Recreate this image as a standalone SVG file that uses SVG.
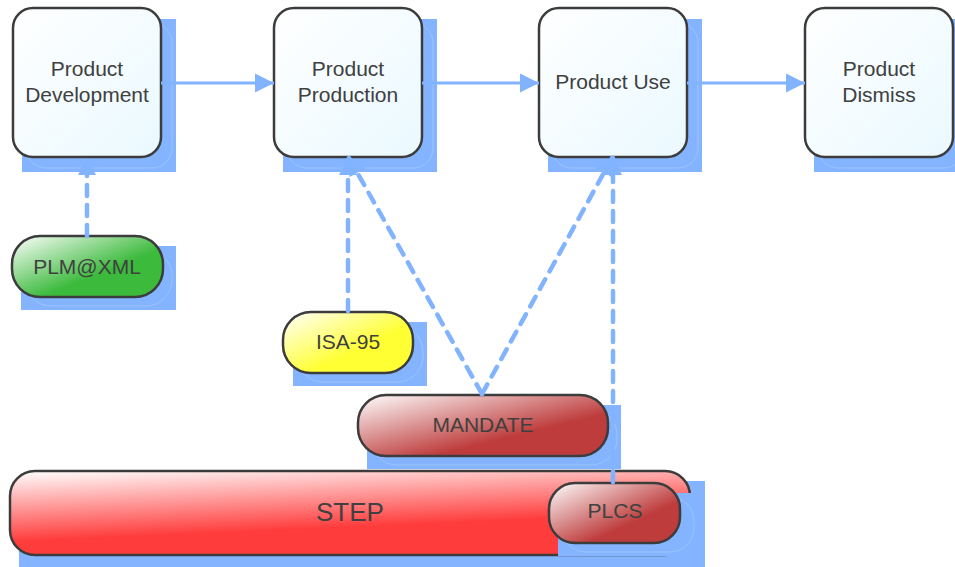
<svg xmlns="http://www.w3.org/2000/svg" width="955" height="567" viewBox="0 0 955 567">
  <defs>
    <linearGradient id="gBox" x1="0" y1="0" x2="1" y2="1">
      <stop offset="0" stop-color="#ffffff"/>
      <stop offset="1" stop-color="#eaf9ff"/>
    </linearGradient>
    <linearGradient id="gGreen" x1="0" y1="0" x2="1" y2="1">
      <stop offset="0" stop-color="#ffffff"/>
      <stop offset="0.6" stop-color="#3cba3c"/>
      <stop offset="1" stop-color="#3cba3c"/>
    </linearGradient>
    <linearGradient id="gYellow" x1="0" y1="0" x2="1" y2="1">
      <stop offset="0" stop-color="#ffffff"/>
      <stop offset="0.6" stop-color="#ffff33"/>
      <stop offset="1" stop-color="#ffff33"/>
    </linearGradient>
    <linearGradient id="gDarkRed" x1="0" y1="0" x2="1" y2="1">
      <stop offset="0" stop-color="#ffffff"/>
      <stop offset="0.65" stop-color="#be3c3c"/>
      <stop offset="1" stop-color="#be3c3c"/>
    </linearGradient>
    <linearGradient id="gRed" x1="0" y1="0" x2="0.35" y2="1">
      <stop offset="0" stop-color="#ffffff"/>
      <stop offset="0.75" stop-color="#ff3c3c"/>
      <stop offset="1" stop-color="#ff3c3c"/>
    </linearGradient>
    <marker id="arr" viewBox="0 0 20 20" refX="19" refY="10" markerWidth="20" markerHeight="20" markerUnits="userSpaceOnUse" orient="auto">
      <path d="M0,0.5 L19,10 L0,19.5 Z" fill="#82b3ff"/>
    </marker>
    <marker id="arrD" viewBox="0 0 18 20" refX="17" refY="10" markerWidth="18" markerHeight="20" markerUnits="userSpaceOnUse" orient="auto">
      <path d="M0,1 L17,10 L0,19 Z" fill="#82b3ff"/>
    </marker>
  </defs>
  <style>
    .shadow { fill: #84b4ff; }
    .shline { fill: none; stroke: #9cc3ff; stroke-width: 1; }
    .box { stroke: #3c3c3c; stroke-width: 2.5; }
    .lbl { font-family: "Liberation Sans", Arial, sans-serif; font-size: 21px; fill: #404040; text-anchor: middle; }
    .solid { fill: none; stroke: #82b3ff; stroke-width: 3; }
    .dash { fill: none; stroke: #82b3ff; stroke-width: 4.5; stroke-dasharray: 11 9; stroke-linecap: round; }
  </style>

  <g id="n-dev">
    <rect class="shadow" x="22" y="19" width="154" height="153"/>
    <rect class="shline" x="26" y="23" width="146" height="145" rx="20"/>
    <rect class="box" x="13" y="8" width="148" height="149" rx="20" fill="url(#gBox)"/>
    <text class="lbl" x="87" y="76">Product</text>
    <text class="lbl" x="87" y="102">Development</text>
  </g>
  <g id="n-prod">
    <rect class="shadow" x="283" y="19" width="154" height="153"/>
    <rect class="shline" x="287" y="23" width="146" height="145" rx="20"/>
    <rect class="box" x="274" y="8" width="148" height="149" rx="20" fill="url(#gBox)"/>
    <text class="lbl" x="348" y="76">Product</text>
    <text class="lbl" x="348" y="102">Production</text>
  </g>
  <g id="n-use">
    <rect class="shadow" x="548" y="19" width="154" height="153"/>
    <rect class="shline" x="552" y="23" width="146" height="145" rx="20"/>
    <rect class="box" x="539" y="8" width="148" height="149" rx="20" fill="url(#gBox)"/>
    <text class="lbl" x="613" y="89">Product Use</text>
  </g>
  <g id="n-dismiss">
    <rect class="shadow" x="814" y="19" width="154" height="153"/>
    <rect class="shline" x="818" y="23" width="146" height="145" rx="20"/>
    <rect class="box" x="805" y="8" width="148" height="149" rx="20" fill="url(#gBox)"/>
    <text class="lbl" x="879" y="76">Product</text>
    <text class="lbl" x="879" y="102">Dismiss</text>
  </g>
  <g id="n-plmxml">
    <rect class="shadow" x="21" y="246" width="155" height="64"/>
    <rect class="shline" x="25" y="250" width="147" height="56" rx="26"/>
    <rect class="box" x="12" y="236" width="151" height="61" rx="28" fill="url(#gGreen)"/>
    <text class="lbl" x="87" y="274">PLM@XML</text>
  </g>
  <g id="n-isa95">
    <rect class="shadow" x="293" y="322" width="134" height="64"/>
    <rect class="shline" x="297" y="326" width="126" height="56" rx="26"/>
    <rect class="box" x="283" y="312" width="130" height="61" rx="28" fill="url(#gYellow)"/>
    <text class="lbl" x="348" y="349">ISA-95</text>
  </g>
  <g id="n-mandate">
    <rect class="shadow" x="367" y="405" width="254" height="64"/>
    <rect class="shline" x="371" y="409" width="246" height="56" rx="26"/>
    <rect class="box" x="358" y="395" width="250" height="61" rx="28" fill="url(#gDarkRed)"/>
    <text class="lbl" x="483" y="432">MANDATE</text>
  </g>
  <g id="n-step">
    <rect class="shadow" x="19" y="481" width="686" height="86"/>
    <rect class="box" x="10" y="471" width="680" height="84" rx="25" fill="url(#gRed)"/>
    <text class="lbl" x="350" y="521" style="font-size:26px">STEP</text>
  </g>
  <g id="n-plcs">
    <rect class="shadow" x="558" y="493" width="140" height="63"/>
    <rect class="shline" x="562" y="497" width="132" height="55" rx="24"/>
    <rect class="box" x="549" y="483" width="131" height="60" rx="26" fill="url(#gDarkRed)"/>
    <text class="lbl" x="615" y="518">PLCS</text>
  </g>

  <g id="connectors">
    <line class="solid" x1="161" y1="83" x2="274" y2="83" marker-end="url(#arr)"/>
    <line class="solid" x1="422" y1="83" x2="539" y2="83" marker-end="url(#arr)"/>
    <line class="solid" x1="687" y1="83" x2="805" y2="83" marker-end="url(#arr)"/>
    <line class="dash" x1="87" y1="236" x2="87" y2="158" marker-end="url(#arrD)"/>
    <line class="dash" x1="348" y1="311" x2="348" y2="158" marker-end="url(#arrD)"/>
    <line class="dash" x1="482" y1="394" x2="349" y2="158" marker-end="url(#arrD)"/>
    <line class="dash" x1="482" y1="394" x2="612" y2="158" marker-end="url(#arrD)"/>
    <line class="dash" x1="613" y1="482" x2="613" y2="158" marker-end="url(#arrD)"/>
  </g>
</svg>
